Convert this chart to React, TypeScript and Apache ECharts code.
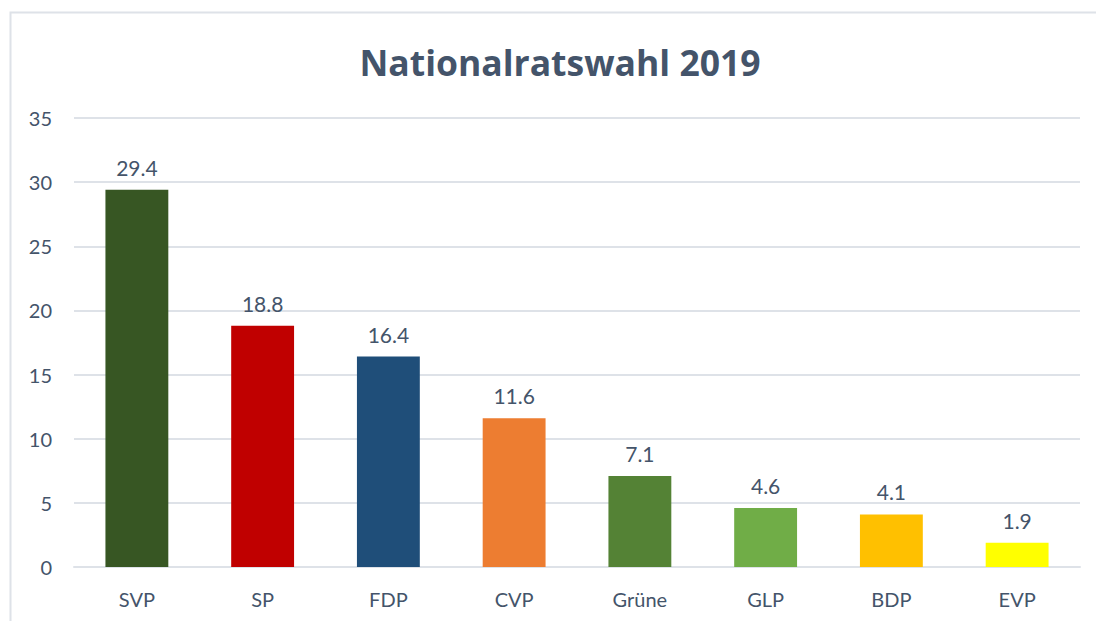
import React, { useEffect, useRef } from "react";
import * as echarts from "echarts";

const categories = ["SVP", "SP", "FDP", "CVP", "Grüne", "GLP", "BDP", "EVP"];
const values = [29.4, 18.8, 16.4, 11.6, 7.1, 4.6, 4.1, 1.9];
const colors = ["#375623", "#C00000", "#1F4E79", "#ED7D31", "#548235", "#70AD47", "#FFC000", "#FFFF00"];
const titleText = "Nationalratswahl 2019";

export default function App() {
  const ref = useRef<HTMLDivElement>(null);
  useEffect(() => {
    const chart = echarts.init(ref.current!, undefined, { renderer: "svg" });
    const textColor = "#44546A";
    const font = "Lato, 'Open Sans', sans-serif";
    chart.setOption({
      animation: false,
      backgroundColor: "#ffffff",
      title: {
        text: titleText,
        left: 555,
        top: 39,
        textAlign: "center",
        textStyle: { color: textColor, fontSize: 35.5, fontWeight: "bold", fontFamily: "'Open Sans', sans-serif" },
      },
      graphic: [
        {
          type: "rect",
          shape: { x: 10.5, y: 12.5, width: 1200, height: 700 },
          style: { fill: "none", stroke: "#DEE2E8", lineWidth: 2 },
          silent: true,
        },
      ],
      grid: { left: 74, right: 16, top: 118, bottom: 54 },
      xAxis: {
        type: "category",
        data: categories,
        axisLine: { lineStyle: { color: "#DEE2E8", width: 2 } },
        axisTick: { show: false },
        axisLabel: { color: textColor, fontSize: 20, fontFamily: font, margin: 22 },
      },
      yAxis: {
        type: "value",
        min: 0,
        max: 35,
        interval: 5,
        axisLine: { show: false },
        axisTick: { show: false },
        splitLine: { lineStyle: { color: "#DEE2E8", width: 2 } },
        axisLabel: { color: textColor, fontSize: 20, fontFamily: font, margin: 22 },
      },
      series: [
        {
          type: "bar",
          barWidth: "50%",
          data: values.map((v, i) => ({ value: v, itemStyle: { color: colors[i] } })),
          label: {
            show: true,
            position: "top",
            distance: 12,
            color: textColor,
            fontSize: 21,
            fontFamily: font,
            formatter: (p: any) => p.value.toFixed(1),
          },
        },
      ],
    });
    return () => chart.dispose();
  }, []);
  return <div ref={ref} style={{ width: 1096, height: 621, position: "absolute", left: 0, top: 0 }} />;
}
